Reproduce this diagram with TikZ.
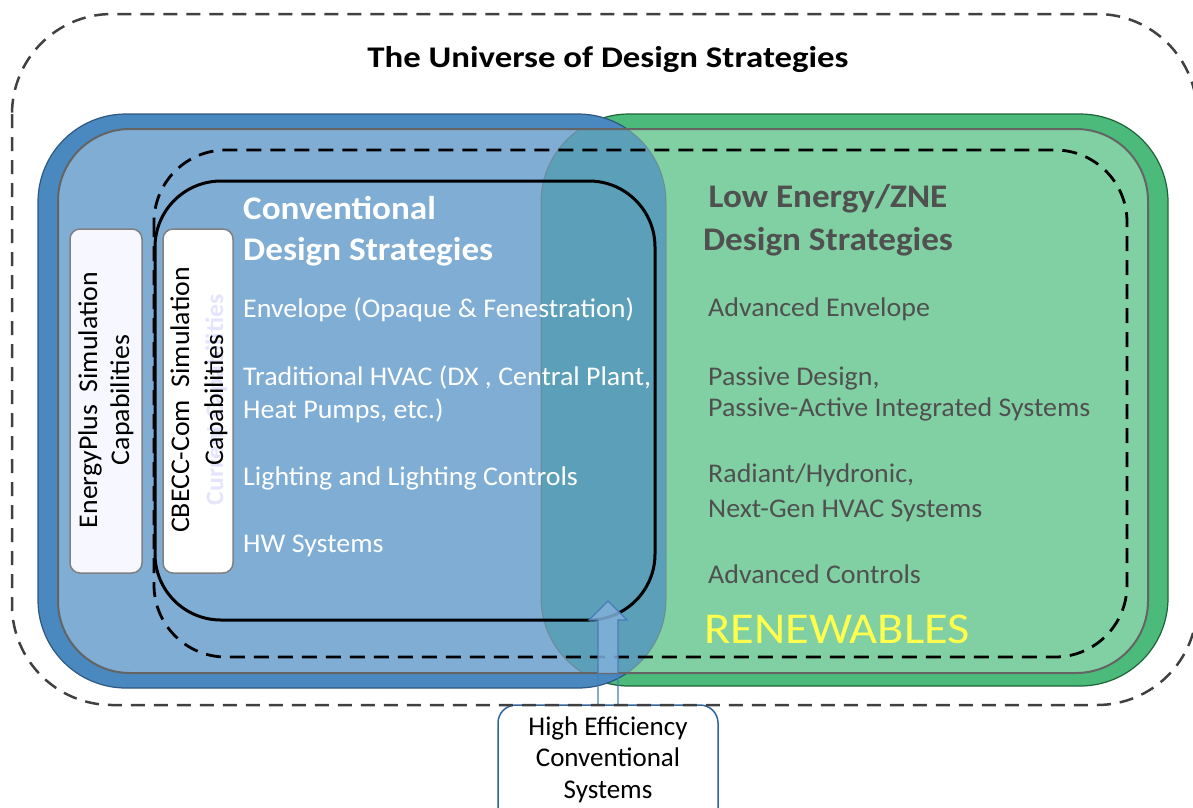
\documentclass[tikz,border=0pt]{standalone}
\usepackage{fontspec}
\setmainfont{Carlito}
\usetikzlibrary{calc}

\definecolor{bluering}{RGB}{74,136,192}
\definecolor{bluelight}{RGB}{127,173,212}
\definecolor{blueedge}{RGB}{47,88,130}
\definecolor{greenring}{RGB}{75,186,122}
\definecolor{greenlight}{RGB}{128,208,164}
\definecolor{greenedge}{RGB}{30,100,58}
\definecolor{overlap}{RGB}{91,159,184}
\definecolor{innerline}{RGB}{100,100,100}
\definecolor{univline}{RGB}{64,64,64}
\definecolor{zonetext}{RGB}{80,80,80}
\definecolor{renew}{RGB}{255,255,77}
\definecolor{faint}{RGB}{228,228,255}
\definecolor{boxblue}{RGB}{46,100,160}
\definecolor{arrowblue}{RGB}{70,125,185}
\definecolor{arrowfill}{RGB}{130,176,218}

\begin{document}
\begin{tikzpicture}[x=1pt,y=-1pt,
  heading/.style={font=\fontsize{33}{38}\selectfont\bfseries, inner sep=0pt, xscale=1.065},
  item/.style={font=\fontsize{27}{31}\selectfont, inner sep=0pt, anchor=base west, xscale=1.035},
  convitem/.style={item, text=white},
  lowitem/.style={item, text=zonetext},
  vtext/.style={font=\fontsize{27}{30}\selectfont, inner sep=0pt, anchor=base, rotate=90, xscale=1.03},
  simbox/.style={draw=black!50, line width=1.5pt, rounded corners=10pt},
  hectext/.style={font=\fontsize{27}{32}\selectfont, inner sep=0pt, anchor=base},
]
\useasboundingbox (0,0) rectangle (1193,807);
\clip (0,0) rectangle (1193,807);

% green (low energy) set: outer ring
\filldraw[fill=greenring, draw=greenedge, line width=1.2pt, rounded corners=88pt]
  (541,114) rectangle (1168,686);
% blue (conventional) set: outer ring
\filldraw[fill=bluering, draw=blueedge, line width=1.2pt, rounded corners=88pt]
  (38,114) rectangle (666,688);

% inner fields of both sets and their overlap
\begin{scope}
  \clip[rounded corners=72pt] (58,129) rectangle (1148,673);
  \fill[greenlight, rounded corners=88pt] (541,114) rectangle (1168,686);
  \fill[bluelight, rounded corners=88pt] (38,114) rectangle (666,688);
  \begin{scope}
    \clip[rounded corners=88pt] (38,114) rectangle (666,688);
    \fill[overlap, rounded corners=88pt] (541,114) rectangle (1168,686);
  \end{scope}
  \draw[black!55, opacity=0.5, line width=1pt, rounded corners=88pt] (541,114) rectangle (1168,686);
  \draw[black!55, opacity=0.5, line width=1pt, rounded corners=88pt] (38,114) rectangle (666,688);
\end{scope}
\draw[innerline, line width=2pt, rounded corners=72pt] (58,129) rectangle (1148,673);

% design strategy boundaries
\draw[black, line width=2.8pt, dash pattern=on 15pt off 9pt, rounded corners=72pt]
  (154,150) rectangle (1127,657);
\draw[black, line width=3pt, rounded corners=66pt] (155,181) rectangle (655,620);

% simulation capability boxes
\node[simbox, fill=blue!3, minimum width=72pt, minimum height=344pt] (eplusbox) at (106,401) {};
\node[simbox, fill=white, minimum width=70pt, minimum height=344pt] (cbeccbox) at (198,401) {};
\node[vtext] (eplus1) at (97,400) {EnergyPlus\ \ Simulation};
\node[vtext] (eplus2) at (129,400) {Capabilities};
\node[vtext, text=faint, font=\fontsize{25}{30}\selectfont\bfseries] (current) at (223,400) {Current Capabilities};
\node[vtext] (cbecc1) at (189,400) {CBECC-Com\ \ Simulation};
\node[vtext] (cbecc2) at (223,400) {Capabilities};

% title
\node[font=\fontsize{30}{36}\selectfont\bfseries, inner sep=0pt, anchor=base, xscale=1.16] (title) at (608,67)
  {The Universe of Design Strategies};

% conventional strategies
\node[heading, text=white, anchor=base west] (convh1) at (243,219) {Conventional};
\node[heading, text=white, anchor=base west] (convh2) at (243,260) {Design Strategies};
\node[convitem] (c1) at (243,317) {Envelope (Opaque \& Fenestration)};
\node[convitem] (c2a) at (243,385) {Traditional HVAC (DX , Central Plant,};
\node[convitem] (c2b) at (243,418) {Heat Pumps, etc.)};
\node[convitem] (c3) at (243,485) {Lighting and Lighting Controls};
\node[convitem] (c4) at (243,552) {HW Systems};

% low energy / ZNE strategies
\node[heading, text=zonetext, anchor=base] (lowh1) at (828,207) {Low Energy/ZNE};
\node[heading, text=zonetext, anchor=base] (lowh2) at (828,250) {Design Strategies};
\node[lowitem] (l1) at (708,316) {Advanced Envelope};
\node[lowitem] (l2a) at (708,385) {Passive Design,};
\node[lowitem] (l2b) at (708,416) {Passive-Active Integrated Systems};
\node[lowitem] (l3a) at (708,482) {Radiant/Hydronic,};
\node[lowitem] (l3b) at (708,517) {Next-Gen HVAC Systems};
\node[lowitem] (l4) at (708,583) {Advanced Controls};
\node[font=\fontsize{44}{50}\selectfont, text=renew, inner sep=0pt, anchor=base west, xscale=1.1] (renew) at (704,643) {RENEWABLES};

% high efficiency conventional systems
\node[draw=boxblue, fill=white, line width=1.5pt, rounded corners=18pt,
      minimum width=220pt, minimum height=124pt, inner sep=0pt] (hec) at (608,767) {};
\node[hectext] (hec1) at (608,735) {High Efficiency};
\node[hectext] (hec2) at (608,766) {Conventional};
\node[hectext] (hec3) at (608,798) {Systems};

% block arrow from the box into the overlap
\coordinate (tip) at (608,601);
\begin{scope}
  \clip[rounded corners=72pt] (58,129) rectangle (1148,673);
  \fill[arrowfill, opacity=0.85]
    ($(hec.north)+(-10,0)$) -- ($(tip)+(-10,19)$) -- ($(tip)+(-19,19)$) -- (tip)
    -- ($(tip)+(19,19)$) -- ($(tip)+(10,19)$) -- ($(hec.north)+(10,0)$) -- cycle;
\end{scope}
\draw[arrowblue, line width=1.2pt]
    ($(hec.north)+(-10,0)$) -- ($(tip)+(-10,19)$) -- ($(tip)+(-19,19)$) -- (tip)
    -- ($(tip)+(19,19)$) -- ($(tip)+(10,19)$) -- ($(hec.north)+(10,0)$);

% the universe of design strategies
\draw[univline, line width=2.5pt, dash pattern=on 14pt off 9pt, rounded corners=100pt]
  (12,14) rectangle (1197,705);
\end{tikzpicture}
\end{document}
